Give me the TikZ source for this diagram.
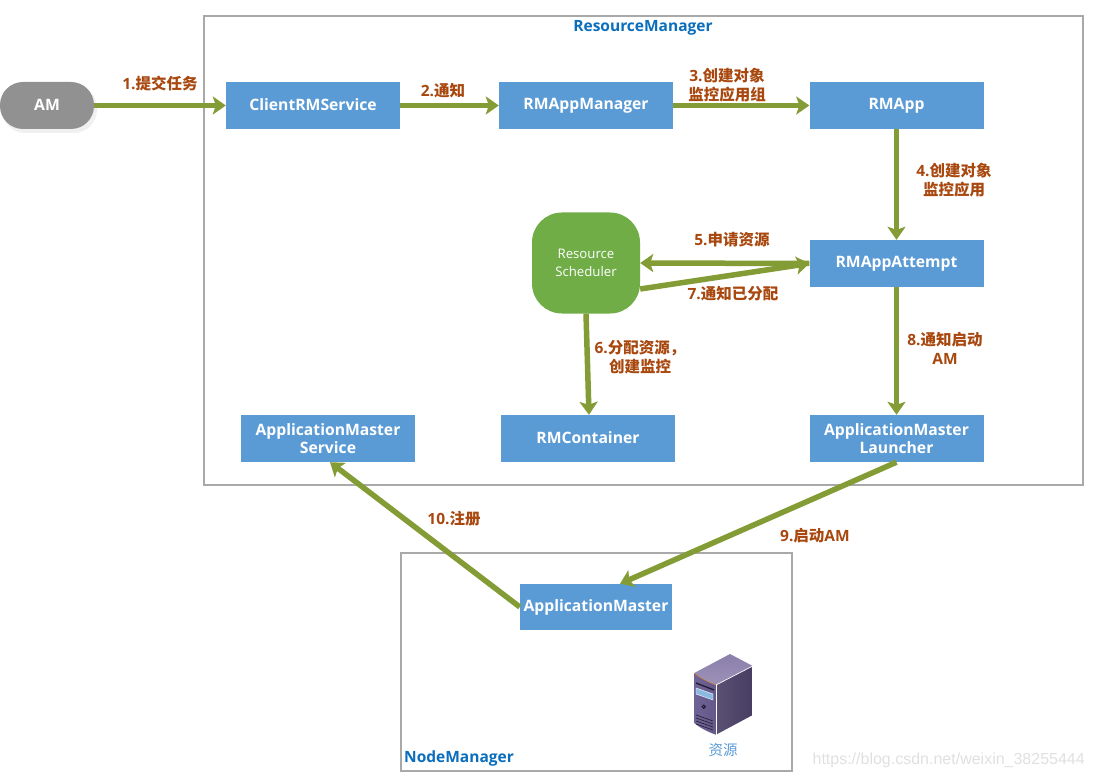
\documentclass[tikz,border=0pt]{standalone}
\usepackage{fontspec}
\setmainfont{Open Sans}
\newfontfamily\cjk{Noto Sans CJK SC}
\newfontfamily\wm{Liberation Sans}
\usetikzlibrary{arrows.meta,calc}
\definecolor{boxblue}{HTML}{5B9BD5}
\definecolor{arrowgreen}{HTML}{839C35}
\definecolor{schedgreen}{HTML}{70AD47}
\definecolor{labelred}{HTML}{A8480F}
\definecolor{titleblue}{HTML}{0A6EBD}
\definecolor{framegray}{HTML}{A9A9A9}
\definecolor{srvtop}{HTML}{8B7FAB}
\definecolor{srvfront}{HTML}{6F6296}
\definecolor{srvside}{HTML}{473D63}
\definecolor{srvdark}{HTML}{1F1B30}
\tikzset{
  px/.style={x=1pt,y=-1pt},
  frame/.style={draw=framegray,line width=1.5pt,fill=white,inner sep=0pt,outer sep=0pt,anchor=north west},
  bluebox/.style={fill=boxblue,text=white,font=\fontsize{15.7}{18.5}\selectfont\bfseries,align=center,minimum width=174pt,minimum height=47pt,inner sep=0pt},
  flow/.style={draw=arrowgreen,line width=5.5pt,-{Stealth[length=13pt,width=18pt,inset=3pt]}},
  lab/.style={text=labelred,font=\fontsize{15.5}{19}\selectfont\bfseries,align=center,inner sep=0pt},
  frametitle/.style={text=titleblue,font=\fontsize{15.5}{18}\selectfont\bfseries,inner sep=0pt},
}
\begin{document}
\begin{tikzpicture}[px]
\useasboundingbox (0,0) rectangle (1093,778);
\node[frame,minimum width=879pt,minimum height=469pt] (rm) at (204,16) {};
\node[frame,minimum width=391pt,minimum height=218pt] (nm) at (401,553) {};
\node[frametitle] (rmt) at (643,28) {ResourceManager};
\node[frametitle] (nmt) at (459,758) {NodeManager};

% AM
\fill[black!6,rounded corners=23pt] (2,85) rectangle (97,133);
\node[fill=black!43,text=white,font=\fontsize{15.7}{18}\selectfont\bfseries,rounded corners=23pt,minimum width=94pt,minimum height=47pt,inner sep=0pt] (am) at (47,105.5) {\raisebox{1pt}{AM}};

\node[bluebox] (crm) at (313,105.5) {\raisebox{1pt}{ClientRMService}};
\node[bluebox] (mgr) at (586,105.5) {\raisebox{1pt}{RMAppManager}};
\node[bluebox] (app) at (896.5,105.5) {RMApp};
\node[bluebox] (att) at (896.5,263.5) {\raisebox{1pt}{RMAppAttempt}};
\node[bluebox] (ams) at (328,438.5) {ApplicationMaster\\Service};
\node[bluebox] (con) at (588,438.5) {\raisebox{1pt}{RMContainer}};
\node[bluebox] (aml) at (896.5,438.5) {ApplicationMaster\\Launcher};
\node[bluebox,minimum width=152pt,minimum height=46pt] (ma) at (596,607) {ApplicationMaster};
\node[fill=schedgreen,text=white,font=\fontsize{13.2}{18}\selectfont,align=center,rounded corners=30pt,minimum width=108pt,minimum height=101pt,inner sep=0pt] (rs) at (586,263) {Resource\\Scheduler};

% connectors
\draw[flow] (am.east) -- (crm.west);
\draw[flow] (crm.east) -- (mgr.west);
\draw[flow] (mgr.east) -- (app.west);
\draw[flow] (app.south) -- (att.north);
\draw[flow] (att.west) -- (rs.east);
\draw[flow] ($(rs.east)+(0,26)$) -- (att.west);
\draw[flow] (rs.south) -- ($(con.north)+(1,0)$);
\draw[flow] (att.south) -- (aml.north);
\draw[flow] (aml.south) -- ($(ma.north)+(24,0)$);
\draw[flow] (ma.west) -- ($(ams.south)+(2,0)$);

% labels
\node[lab] (l1) at (160,83) {1.{\cjk 提交任务}};
\node[lab] (l2) at (443,91) {2.{\cjk 通知}};
\node[lab] (l3) at (727,85) {3.{\cjk 创建对象}\\{\cjk 监控应用组}};
\node[lab] (l4) at (954,180) {4.{\cjk 创建对象}\\{\cjk 监控应用}};
\node[lab] (l5) at (732,240) {5.{\cjk 申请资源}};
\node[lab] (l7) at (733,294) {7.{\cjk 通知已分配}};
\node[lab] (l6) at (640,357) {6.{\cjk 分配资源，}\\{\cjk 创建监控}};
\node[lab] (l8) at (945,348) {8.{\cjk 通知启动}\\AM};
\node[lab] (l9) at (815,536) {9.{\cjk 启动}AM};
\node[lab] (l10) at (454,519) {10.{\cjk 注册}};

% server
\shade[top color=srvtop,bottom color=srvtop!85!white] (694.3,673) -- (730,654) -- (752.7,666) -- (716,685) .. controls (708,682) and (700,678) .. cycle;
\shade[left color=srvfront,right color=srvfront!90!black] (694.3,673) .. controls (700,678) and (708,682) .. (716,685) -- (716,734.7) .. controls (708,732) and (700,728) .. (694.3,723) -- cycle;
\shade[left color=srvside!90!white,right color=srvside] (716,685) -- (752.7,666) -- (752.7,715) -- (716,734.7) -- cycle;
\draw[white,line width=0.7pt] (716,685) -- (752.7,666);
\draw[white,line width=0.7pt] (716,685) -- (716,734.7);
\draw[orange!70!brown,line width=0.4pt] (694.3,673) .. controls (700,678) and (708,682) .. (716,685);
\draw[srvdark,line width=1.3pt] (696,683) -- (714,690);
\fill[boxblue!70!white,draw=white,line width=0.4pt] (696,688) -- (713,694) -- (713,700) -- (696,694) -- cycle;
\draw[srvdark,line width=1pt] (703.7,706.7) circle (1.7);
\foreach \dy in {0,3,6,9}
  \draw[srvdark,line width=0.6pt] (696,715+\dy) -- (713,721+\dy);
\node[text=boxblue,font=\fontsize{14.5}{16}\selectfont\cjk,inner sep=0pt] (src) at (723,750) {资源};

% watermark
\node[text=black!12,font=\fontsize{16}{18}\selectfont\wm,anchor=east,inner sep=0pt] (wm) at (1085,760) {https://blog.csdn.net/weixin\_38255444};
\end{tikzpicture}
\end{document}
